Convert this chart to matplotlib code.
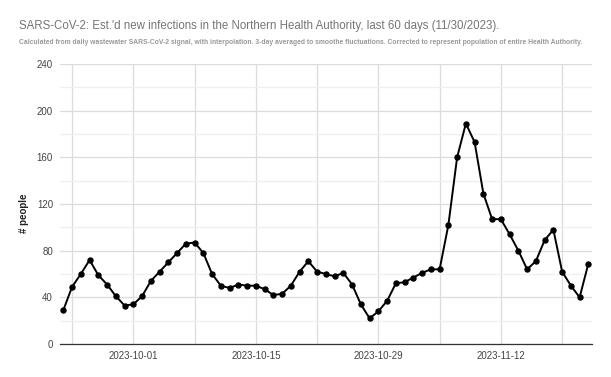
import matplotlib
matplotlib.use("Agg")
import matplotlib.pyplot as plt
import matplotlib.dates as mdates
import numpy as np
import pandas as pd

start_date = "2023-09-23"
values = [29, 49, 60, 72, 59, 51, 41, 33, 34, 41,
          54, 62, 70, 78, 86, 87, 78, 60, 50, 48,
          51, 50, 50, 47, 42, 43, 50, 62, 71, 62,
          60, 58, 61, 51, 34, 22, 28, 37, 52, 53,
          57, 61, 64, 64, 102, 160, 189, 173, 129, 107,
          107, 94, 80, 64, 71, 89, 98, 62, 50, 40, 69]
dates = pd.date_range(start_date, periods=len(values), freq="D")
tick_labels = ["2023-10-01", "2023-10-15", "2023-10-29", "2023-11-12"]
title = "SARS-CoV-2: Est.'d new infections in the Northern Health Authority, last 60 days (11/30/2023)."
subtitle = ("Calculated from daily wastewater SARS-CoV-2 signal, with interpolation. 3-day averaged to smoothe "
            "fluctuations. Corrected to represent population of entire Health Authority.")

plt.rcParams['font.family'] = ['Liberation Sans', 'DejaVu Sans']

fig = plt.figure(figsize=(6.11, 3.77), dpi=100)
ax = fig.add_axes([0.0982, 0.0875, 0.8708, 0.7427])

ax.plot(dates, values, color="black", lw=1.4, marker="o", ms=3.6, zorder=3)

x0 = mdates.date2num(dates[0]) - 0.38
x1 = mdates.date2num(dates[-1]) + 0.42
ax.set_xlim(x0, x1)
ax.set_ylim(0, 240)

ax.set_yticks(np.arange(0, 241, 40))
ax.set_yticks(np.arange(20, 240, 40), minor=True)
major_x = pd.date_range("2023-09-24", "2023-11-20", freq="7D")
ax.set_xticks(mdates.date2num(major_x))
ax.set_xticklabels([d.strftime("%Y-%m-%d") if d.strftime("%Y-%m-%d") in tick_labels else "" for d in major_x])

ax.grid(True, which="major", color="#dcdcdc", lw=0.9)
ax.grid(True, which="minor", axis="y", color="#efefef", lw=0.9)
ax.set_axisbelow(True)
for s in ["top", "right", "left"]:
    ax.spines[s].set_visible(False)
ax.spines["bottom"].set_color("#333333")
ax.spines["bottom"].set_linewidth(0.9)
ax.tick_params(axis="both", which="both", length=0, labelsize=7, labelcolor="#444444")
ax.tick_params(axis="y", pad=5)
ax.tick_params(axis="x", pad=5)

fig.text(24/611, 1 - 213/377, "# people", rotation=90, fontsize=7, fontweight="bold",
         color="#222222", ha="center", va="center")

t1 = fig.text(19/611, 1 - 26/377, title, fontsize=10, color="#757575", va="center", ha="left")
t2 = fig.text(19/611, 1 - 42/377, subtitle, fontsize=5, color="#999999", va="center", ha="left",
              fontweight="bold")

renderer = fig.canvas.get_renderer()
for t, target in ((t1, 483), (t2, 571)):
    w = t.get_window_extent(renderer).width
    t.set_fontsize(t.get_fontsize() * target / w)

fig.savefig("out.png", dpi=100)
